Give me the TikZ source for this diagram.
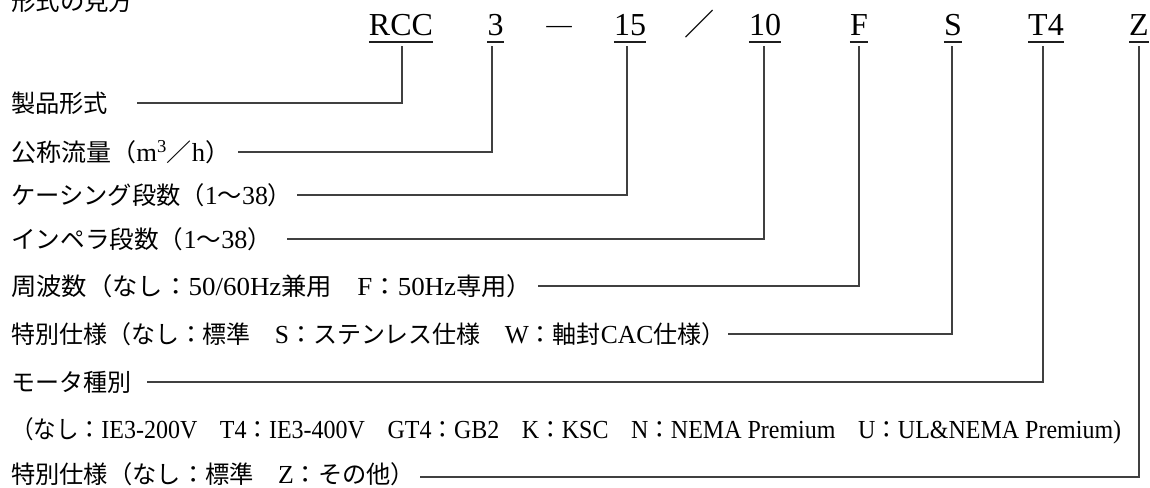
\documentclass[tikz,border=0pt]{standalone}
\usepackage{fontspec}
\usepackage{graphicx}
\setmainfont{Liberation Serif}
\newfontfamily\jp[Scale=0.94]{Noto Sans CJK JP}
\newcommand\J[1]{{\jp #1}}
\newsavebox\lbox
\newcommand\fitw[2]{\sbox\lbox{#2}\pgfmathsetmacro\fsc{#1/(\wd\lbox)}\scalebox{\fsc}[1]{\usebox\lbox}}
\begin{document}
\begin{tikzpicture}[x=1pt,y=-1pt,
  lbl/.style={anchor=west,inner sep=0pt,text height=20.5pt,text depth=2pt,font=\fontsize{26}{30}\selectfont},
  code/.style={anchor=base,inner sep=0pt,font=\fontsize{32}{36}\selectfont},
  sym/.style={anchor=base,inner sep=0pt,font=\jp\fontsize{32}{36}\selectfont},
  uline/.style={line width=2.2pt,draw=black!88},
  conn/.style={line width=1.1pt,draw=black!75}]
\useasboundingbox (0,0) rectangle (1150,487);
% title
\node[lbl,anchor=base west] (title) at (11,11) {\J{形式の見方}};
% code row
\node[code] (rcc) at (401,36) {RCC};
\node[code] (c3) at (495.5,36) {3};
\node[sym] (dash) at (560,38) {―};
\node[code] (c15) at (630,36) {15};
\node[sym] (slash) at (700,36) {／};
\node[code] (c10) at (765,36) {10};
\node[code] (cF) at (859,36) {F};
\node[code] (cS) at (953,36) {S};
\node[code] (cT4) at (1046,36) {T4};
\node[code] (cZ) at (1139,36) {Z};
\foreach \n in {rcc,c3,c15,c10,cF,cS,cT4,cZ}
  \draw[uline] ([yshift=-6pt]\n.base west) -- ([yshift=-6pt]\n.base east);
\coordinate (tRCC) at ([xshift=1pt,yshift=-10pt]rcc.base);
\coordinate (t3) at ([xshift=-3.5pt,yshift=-10pt]c3.base);
\coordinate (t15) at ([xshift=-3pt,yshift=-10pt]c15.base);
\coordinate (t10) at ([xshift=-1pt,yshift=-10pt]c10.base);
\coordinate (tF) at ([yshift=-10pt]cF.base);
\coordinate (tS) at ([xshift=-1pt,yshift=-10pt]cS.base);
\coordinate (tT4) at ([xshift=-3pt,yshift=-10pt]cT4.base);
\coordinate (tZ) at ([yshift=-10pt]cZ.base);
% labels
\node[lbl] (l1) at (11,103) {\fitw{97}{\J{製品形式}}};
\node[lbl] (l2) at (11,152) {\fitw{219}{\J{公称流量（}m\textsuperscript{3}\J{／}h\J{）}}};
\node[lbl] (l3) at (11,195) {\fitw{281}{\J{ケーシング段数（}1\J{～}38\J{）}}};
\node[lbl] (l4) at (11,239) {\fitw{261}{\J{インペラ段数（}1\J{～}38\J{）}}};
\node[lbl] (l5) at (11,286) {\fitw{521}{\J{周波数（なし：}50/60Hz\J{兼用　}F\J{：}50Hz\J{専用）}}};
\node[lbl] (l6) at (11,334) {\fitw{714}{\J{特別仕様（なし：標準　}S\J{：ステンレス仕様　}W\J{：軸封}CAC\J{仕様）}}};
\node[lbl] (l7) at (11,382) {\fitw{120}{\J{モータ種別}}};
\node[lbl] (l8) at (11,429) {\fitw{1110}{\J{（なし：}IE3-200V\J{　}T4\J{：}IE3-400V\J{　}GT4\J{：}GB2\J{　}K\J{：}KSC\J{　}N\J{：}NEMA Premium\J{　}U\J{：}UL\&NEMA Premium)}};
\node[lbl] (l9) at (11,474) {\fitw{404}{\J{特別仕様（なし：標準　}Z\J{：その他）}}};
% connectors
\draw[conn] ([xshift=29pt]l1.east) -| (tRCC);
\draw[conn] ([xshift=8pt]l2.east) -| (t3);
\draw[conn] ([xshift=5pt]l3.east) -| (t15);
\draw[conn] ([xshift=15pt]l4.east) -| (t10);
\draw[conn] ([xshift=6pt]l5.east) -| (tF);
\draw[conn] ([xshift=3pt]l6.east) -| (tS);
\draw[conn] ([xshift=16pt]l7.east) -| (tT4);
\draw[conn] ([xshift=5pt,yshift=-3pt]l9.east) -| (tZ);
\end{tikzpicture}
\end{document}
